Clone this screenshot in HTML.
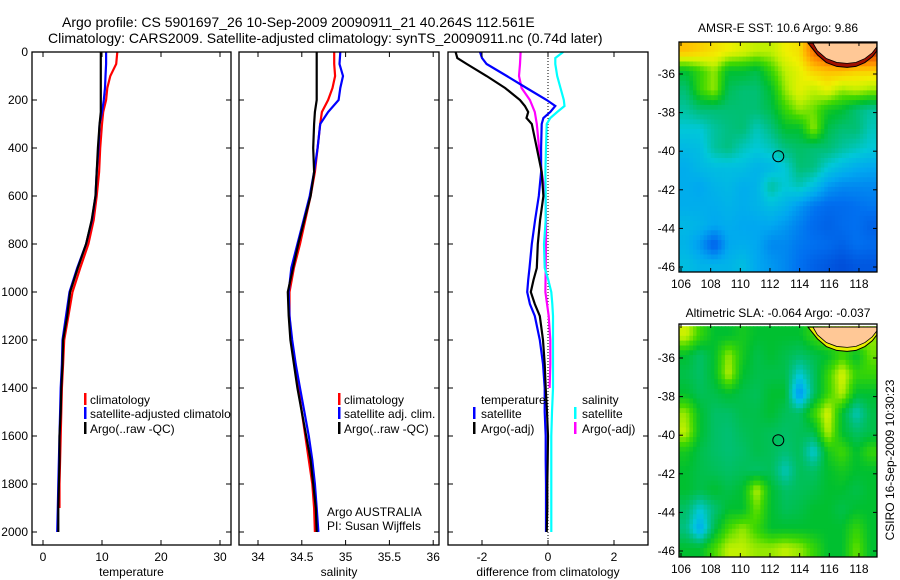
<!DOCTYPE html>
<html><head><meta charset="utf-8"><style>
body{margin:0;background:#fff;}
svg{display:block;font-family:"Liberation Sans",sans-serif;}
</style></head><body>
<svg id="fig" width="900" height="580" viewBox="0 0 900 580" xmlns="http://www.w3.org/2000/svg">
<text x="62" y="27" font-size="14">Argo profile: CS 5901697_26 10-Sep-2009 20090911_21 40.264S 112.561E</text>
<text x="48" y="43" font-size="14">Climatology: CARS2009. Satellite-adjusted climatology: synTS_20090911.nc (0.74d later)</text>
<text x="778" y="32" font-size="12" text-anchor="middle">AMSR-E SST: 10.6 Argo: 9.86</text>
<text x="778" y="317" font-size="12" text-anchor="middle">Altimetric SLA: -0.064 Argo: -0.037</text>
<text transform="translate(894,460) rotate(-90)" font-size="12" text-anchor="middle">CSIRO 16-Sep-2009 10:30:23</text>
</svg>
<script>
// ---- data ----
const depthT = [0,50,100,150,200,250,300,400,500,600,700,800,900,1000,1100,1200,1300,1400,1500,1600,1700,1800,1900,2000];
const tempArgo = [9.8,9.8,9.8,9.8,9.8,9.8,9.6,9.3,9.1,8.9,8.25,7.3,5.9,4.6,4.1,3.4,3.3,3.1,3.0,2.8,2.8,2.7,2.6,2.6];
const tempClim = [12.6,12.4,11.4,10.9,10.7,10.2,10.0,9.7,9.5,9.1,8.6,7.7,6.3,5.0,4.3,3.6,3.4,3.2,3.1,3.0,2.9,2.8,2.8];
const tempSat = [10.7,10.7,10.6,10.5,10.3,10.0,9.6,9.4,9.1,8.9,8.3,7.3,5.8,4.5,3.9,3.3,3.2,3.0,2.9,2.8,2.7,2.6,2.5,2.4];
const salArgo = [34.67,34.67,34.67,34.67,34.67,34.65,34.64,34.63,34.64,34.60,34.53,34.46,34.40,34.34,34.35,34.37,34.41,34.45,34.50,34.55,34.60,34.63,34.66,34.67];
const salClim = [34.87,34.87,34.88,34.85,34.80,34.73,34.71,34.68,34.65,34.60,34.54,34.48,34.41,34.36,34.36,34.38,34.42,34.46,34.50,34.54,34.58,34.62,34.64,34.65];
const salSat = [34.94,34.93,34.97,34.94,34.92,34.80,34.71,34.68,34.64,34.59,34.52,34.45,34.38,34.35,34.36,34.39,34.43,34.48,34.53,34.58,34.62,34.65,34.67,34.69];
const depthD = [0,25,50,100,150,200,225,250,275,300,400,500,600,700,800,900,950,1000,1050,1100,1200,1300,1400,1500,1600,1700,1800,1900,2000];
const dTempArgo = [-2.8,-2.75,-2.46,-1.86,-1.30,-0.85,-0.7,-0.6,-0.65,-0.49,-0.34,-0.19,-0.14,-0.24,-0.31,-0.34,-0.44,-0.52,-0.40,-0.25,-0.15,-0.10,-0.07,-0.03,0.0,-0.01,-0.02,-0.02,-0.04];
const dTempSat = [-2.06,-2.0,-1.86,-1.25,-0.65,-0.04,0.22,0.07,-0.14,-0.19,-0.21,-0.21,-0.28,-0.39,-0.49,-0.56,-0.6,-0.63,-0.55,-0.40,-0.25,-0.15,-0.1,-0.1,-0.07,-0.07,-0.06,-0.06,-0.06];
const depthS = [0,50,100,150,200,250,300,400,500,600,700,800,900,1000,1100,1200,1300,1400];
const dSalArgo = [-0.83,-0.85,-0.88,-0.80,-0.55,-0.4,-0.34,-0.27,-0.19,-0.08,-0.06,-0.06,-0.07,-0.08,0.02,0.07,0.07,0.05];
const dSalSat = [0.46,0.22,0.22,0.28,0.38,0.48,0.5,0.28,0.07,-0.04,-0.06,-0.08,-0.07,-0.07,-0.12,-0.1,0.01,0.1,0.13,0.15,0.15,0.15,0.15,0.12,0.1,0.1,0.1,0.1,0.1];
const depthTicks = [0,200,400,600,800,1000,1200,1400,1600,1800,2000];
const tempTicks = [0,10,20,30];
const salTicks = [34,34.5,35,35.5,36];
const salTickLabels = ["34","34.5","35","35.5","36"];
const diffTicks = [-2,0,2];
const lonTicks = [106,108,110,112,114,116,118];
const latTicks = [-36,-38,-40,-42,-44,-46];
const sstGrid = [
[0.72,0.7,0.68,0.66,0.64,0.62,0.62,0.66,0.68,0.82,0.9,0.95,0.95,0.9],
[0.5,0.55,0.6,0.5,0.5,0.48,0.55,0.62,0.65,0.7,0.72,0.72,0.7,0.7],
[0.45,0.55,0.6,0.47,0.45,0.45,0.5,0.6,0.65,0.62,0.65,0.6,0.62,0.6],
[0.42,0.45,0.45,0.45,0.45,0.45,0.48,0.55,0.6,0.58,0.52,0.5,0.45,0.42],
[0.38,0.38,0.42,0.44,0.45,0.4,0.44,0.5,0.5,0.6,0.48,0.45,0.45,0.4],
[0.35,0.36,0.42,0.44,0.4,0.38,0.4,0.44,0.46,0.45,0.45,0.42,0.4,0.38],
[0.33,0.35,0.36,0.36,0.36,0.34,0.35,0.38,0.45,0.44,0.38,0.35,0.33,0.32],
[0.33,0.32,0.34,0.35,0.33,0.34,0.42,0.38,0.4,0.36,0.3,0.28,0.28,0.28],
[0.33,0.33,0.33,0.34,0.33,0.34,0.36,0.34,0.3,0.26,0.24,0.24,0.25,0.26],
[0.35,0.34,0.32,0.33,0.32,0.32,0.32,0.3,0.27,0.24,0.22,0.24,0.25,0.22],
[0.34,0.3,0.22,0.32,0.33,0.32,0.28,0.28,0.26,0.25,0.24,0.22,0.25,0.24],
[0.36,0.34,0.34,0.34,0.36,0.32,0.3,0.28,0.25,0.22,0.2,0.18,0.2,0.2]];
const slaGrid = [
[0.63,0.55,0.5,0.5,0.52,0.5,0.5,0.5,0.5,0.55,0.6,0.62,0.62,0.6],
[0.5,0.46,0.5,0.6,0.52,0.48,0.5,0.48,0.46,0.48,0.5,0.55,0.5,0.58],
[0.48,0.46,0.5,0.62,0.5,0.48,0.48,0.48,0.38,0.46,0.55,0.64,0.55,0.55],
[0.5,0.47,0.48,0.5,0.48,0.47,0.5,0.5,0.28,0.46,0.55,0.62,0.5,0.5],
[0.6,0.5,0.46,0.46,0.48,0.48,0.5,0.47,0.46,0.55,0.64,0.5,0.4,0.48],
[0.62,0.5,0.46,0.45,0.47,0.48,0.47,0.46,0.47,0.48,0.62,0.5,0.46,0.48],
[0.52,0.48,0.46,0.45,0.46,0.48,0.47,0.45,0.47,0.38,0.52,0.56,0.5,0.55],
[0.5,0.48,0.47,0.46,0.47,0.46,0.47,0.4,0.47,0.46,0.5,0.52,0.5,0.5],
[0.5,0.48,0.5,0.48,0.5,0.62,0.5,0.46,0.47,0.48,0.5,0.5,0.48,0.5],
[0.46,0.38,0.45,0.5,0.5,0.58,0.5,0.47,0.48,0.5,0.5,0.48,0.5,0.5],
[0.44,0.32,0.48,0.56,0.6,0.55,0.5,0.5,0.5,0.5,0.5,0.5,0.55,0.5],
[0.5,0.5,0.56,0.62,0.62,0.6,0.6,0.62,0.6,0.55,0.5,0.5,0.58,0.5]];
const landLon = [114.9,115.2,115.8,116.5,117.2,117.8,118.4,118.9,119.2,119.2];
const landLat = [-34.4,-34.8,-35.2,-35.4,-35.45,-35.4,-35.2,-34.9,-34.6,-34.4];
const argoLon = 112.56, argoLat = -40.26;

// ---- drawing ----
const NS="http://www.w3.org/2000/svg", svg=document.getElementById('fig');
function mk(tag, attrs, parent){const e=document.createElementNS(NS,tag);for(const k in attrs)e.setAttribute(k,attrs[k]);(parent||svg).appendChild(e);return e;}
const TOP=52, BOT=545;
const yD = d => 52 + d*0.24;
const panels = [
 {x0:32,x1:231,xs:v=>43+v*5.9,ticks:tempTicks,labels:tempTicks.map(String),title:"temperature",name:"temperature-panel"},
 {x0:239,x1:439,xs:v=>258+(v-34)*87.6,ticks:salTicks,labels:salTickLabels,title:"salinity",name:"salinity-panel"},
 {x0:448,x1:648,xs:v=>548+v*33,ticks:diffTicks,labels:diffTicks.map(String),title:"difference from climatology",name:"difference-panel"}];
function line(xs,vals,deps,color,name,g){
  let p=''; for(let i=0;i<vals.length&&i<deps.length;i++){p+=(i?'L':'M')+xs(vals[i]).toFixed(1)+' '+yD(deps[i]).toFixed(1);}
  const e=mk('path',{d:p,fill:'none',stroke:color,'stroke-width':2.2},g);
  
  
}
const series=[
 [[tempClim,depthT,'#ff0000','temp-climatology-line'],[tempSat,depthT,'#0000ff','temp-satellite-line'],[tempArgo,depthT,'#000000','temp-argo-line']],
 [[salClim,depthT,'#ff0000','sal-climatology-line'],[salSat,depthT,'#0000ff','sal-satellite-line'],[salArgo,depthT,'#000000','sal-argo-line']],
 [[dSalArgo,depthS,'#ff00ff','diff-sal-argo-line'],[dSalSat,depthD,'#00ffff','diff-sal-satellite-line'],[dTempSat,depthD,'#0000ff','diff-temp-satellite-line'],[dTempArgo,depthD,'#000000','diff-temp-argo-line']]];
const legends=[
 [[84,90,'#ff0000','climatology',404],[84,90,'#0000ff','satellite-adjusted climatology',418],[84,90,'#000000','Argo(..raw -QC)',433]],
 [[338,344,'#ff0000','climatology',404],[338,344,'#0000ff','satellite adj. clim.',418],[338,344,'#000000','Argo(..raw -QC)',433]],
 [[473,481,'#0000ff','satellite',418],[473,481,'#000000','Argo(-adj)',433],[574,582,'#00ffff','satellite',418],[574,582,'#ff00ff','Argo(-adj)',433]]];
panels.forEach((P,pi)=>{
  const g=mk('g',{});
  
  
  mk('rect',{x:P.x0,y:TOP,width:P.x1-P.x0,height:BOT-TOP,fill:'#fff'},g);
  if(pi===2){const dl=mk('line',{x1:P.xs(0),x2:P.xs(0),y1:TOP,y2:BOT,stroke:'#000','stroke-width':1,'stroke-dasharray':'1,2'},g);
    
    }
  const cp=mk('clipPath',{id:'cp'+pi},g); mk('rect',{x:P.x0,y:TOP,width:P.x1-P.x0,height:BOT-TOP},cp);
  const lg=mk('g',{'clip-path':'url(#cp'+pi+')'},g);
  series[pi].forEach(s=>line(P.xs,s[0],s[1],s[2],s[3],lg));
  legends[pi].forEach(L=>{
    mk('rect',{x:L[0],y:L[4]-11,width:2.5,height:12,fill:L[2]},lg);
    const t=mk('text',{x:L[1],y:L[4],'font-size':12},lg); t.textContent=L[3];
    
    
  });
  mk('rect',{x:P.x0,y:TOP,width:P.x1-P.x0,height:BOT-TOP,fill:'none',stroke:'#000','stroke-width':1.3},g);
  depthTicks.forEach(d=>{
    mk('line',{x1:P.x0,x2:P.x0+5,y1:yD(d),y2:yD(d),stroke:'#000'},g);
    mk('line',{x1:P.x1-5,x2:P.x1,y1:yD(d),y2:yD(d),stroke:'#000'},g);
    if(pi===0){const t=mk('text',{x:28,y:yD(d)+4,'font-size':12,'text-anchor':'end'},g);t.textContent=d;
      
      }
  });
  P.ticks.forEach((v,i)=>{
    const x=P.xs(v);
    mk('line',{x1:x,x2:x,y1:TOP,y2:TOP+5,stroke:'#000'},g);
    mk('line',{x1:x,x2:x,y1:BOT-5,y2:BOT,stroke:'#000'},g);
    const t=mk('text',{x:x,y:561,'font-size':12,'text-anchor':'middle'},g);t.textContent=P.labels[i];
    
    
  });
  const at=mk('text',{x:(P.x0+P.x1)/2,y:576,'font-size':12,'text-anchor':'middle'},g); at.textContent=P.title;
  
  
});
[[481,'temperature',404],[582,'salinity',404],[327,'Argo AUSTRALIA',516],[327,'PI: Susan Wijffels',530]].forEach(a=>{
  const t=mk('text',{x:a[0],y:a[2],'font-size':12}); t.textContent=a[1];
  
  
});
const cstops=[[0.0,[0,0,140]],[0.15,[0,64,208]],[0.25,[0,112,240]],[0.32,[0,168,240]],[0.38,[0,200,216]],[0.44,[0,192,128]],[0.5,[0,192,48]],[0.56,[64,216,0]],[0.62,[192,240,0]],[0.66,[240,240,0]],[0.72,[255,192,0]],[0.8,[255,128,0]],[0.88,[208,64,0]],[0.95,[160,0,0]],[1,[128,0,0]]];
function cmap(v){for(let i=1;i<cstops.length;i++){if(v<=cstops[i][0]){const a=cstops[i-1],b=cstops[i],t=(v-a[0])/(b[0]-a[0]);return 'rgb('+a[1].map((c,k)=>Math.round(c+(b[1][k]-c)*t)).join(',')+')';}}return 'rgb(128,0,0)';}
function sample(grid,fr,fc){
  const R=grid.length,C=grid[0].length;
  fr=Math.max(0,Math.min(R-1,fr)); fc=Math.max(0,Math.min(C-1,fc));
  const r0=Math.floor(fr),c0=Math.floor(fc),r1=Math.min(R-1,r0+1),c1=Math.min(C-1,c0+1),tr=fr-r0,tc=fc-c0;
  return (grid[r0][c0]*(1-tc)+grid[r0][c1]*tc)*(1-tr)+(grid[r1][c0]*(1-tc)+grid[r1][c1]*tc)*tr;
}
function drawMap(grid,y0,y1,latRef,name,ringColor){
  const x0=679,x1=877;
  const lx=lon=>681+(lon-106)*14.83;
  const ly=lat=>latRef+(-36-lat)*19.3;
  const g=mk('g',{});  
  const cp=mk('clipPath',{id:'cp'+name},g); mk('rect',{x:x0,y:y0,width:x1-x0,height:y1-y0},cp);
  const cg=mk('g',{'clip-path':'url(#cp'+name+')'},g);
  const rows=grid.length, cols=grid[0].length, sub=4;
  const cw=13.4/cols/sub, ch=12.0/rows/sub;
  for(let r=0;r<rows*sub;r++)for(let c=0;c<cols*sub;c++){
    const v=sample(grid,(r+0.5)/sub-0.5,(c+0.5)/sub-0.5);
    const xa=lx(105.85+c*cw), ya=ly(-34.35-r*ch);
    const cell=mk('rect',{x:xa.toFixed(1),y:ya.toFixed(1),width:(cw*14.83+0.6).toFixed(1),height:(ch*19.3+0.6).toFixed(1),fill:cmap(v)},cg);
    
    
  }
  let ring='',land='';
  const n=landLon.length;
  landLon.forEach((lo,i)=>{const edge=(i===0||i===n-1);
    ring+=(i?'L':'M')+(lx(lo)-(i===0?5:0))+' '+(ly(landLat[i])+(edge?0:4));
    land+=(i?'L':'M')+lx(lo)+' '+ly(landLat[i]);});
  const rg=mk('path',{d:ring+'Z',fill:ringColor,stroke:'#000','stroke-width':1},cg);
  
  
  const ld=mk('path',{d:land+'Z',fill:'#ffc896',stroke:'#000','stroke-width':0.8},cg);
  
  
  const mkr=mk('circle',{cx:lx(argoLon),cy:ly(argoLat),r:5.5,fill:'none',stroke:'#000','stroke-width':1},g);
  
  
  mk('rect',{x:x0,y:y0,width:x1-x0,height:y1-y0,fill:'none',stroke:'#000','stroke-width':1.3},g);
  lonTicks.forEach(lo=>{const x=lx(lo);
    mk('line',{x1:x,x2:x,y1:y0,y2:y0+4,stroke:'#000'},g);mk('line',{x1:x,x2:x,y1:y1-4,y2:y1,stroke:'#000'},g);
    const t=mk('text',{x:x,y:y1+16,'font-size':12,'text-anchor':'middle'},g);t.textContent=lo;
    
    });
  latTicks.forEach(la=>{const y=ly(la);
    mk('line',{x1:x0,x2:x0+4,y1:y,y2:y,stroke:'#000'},g);mk('line',{x1:x1-4,x2:x1,y1:y,y2:y,stroke:'#000'},g);
    const t=mk('text',{x:675,y:y+4,'font-size':12,'text-anchor':'end'},g);t.textContent=la;
    
    });
}
drawMap(sstGrid,42,272,74,'sst-map','#a01000');
drawMap(slaGrid,324,557,358,'sla-map','#e8f000');
</script>
</body></html>
